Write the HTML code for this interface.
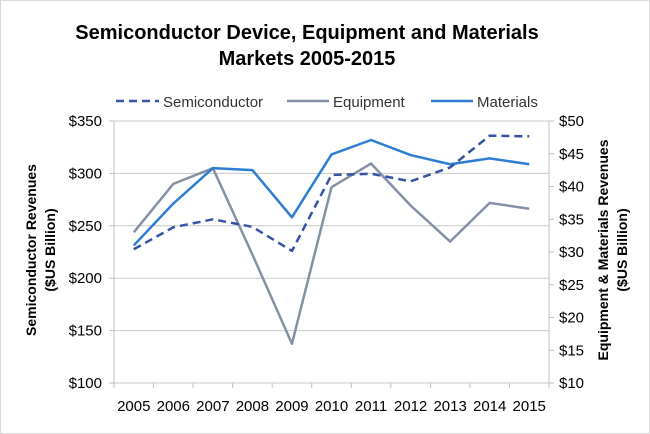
<!DOCTYPE html>
<html><head><meta charset="utf-8"><style>
body{margin:0;background:#fff;}
svg{display:block;font-family:"Liberation Sans",Arial,sans-serif;}
</style></head><body>
<svg id="chart" width="650" height="434" viewBox="0 0 650 434">
<rect x="0.5" y="0.5" width="649" height="433" fill="#fff" stroke="#d9d9d9"/>
<text x="307" y="39" text-anchor="middle" font-size="20" font-weight="bold" fill="#000">Semiconductor Device, Equipment and Materials</text>
<text x="307" y="65" text-anchor="middle" font-size="20" font-weight="bold" fill="#000">Markets 2005-2015</text>
<g id="legend">
<g><line x1="116" y1="101" x2="159" y2="101" stroke="#3653A6" stroke-width="2.5" stroke-dasharray="8,5"/><text x="163" y="107" font-size="15" fill="#333">Semiconductor</text></g>
<g><line x1="287" y1="101" x2="329" y2="101" stroke="#8490A6" stroke-width="2.5"/><text x="333" y="107" font-size="15" fill="#333">Equipment</text></g>
<g><line x1="431" y1="101" x2="473" y2="101" stroke="#2D7DD2" stroke-width="2.5"/><text x="477" y="107" font-size="15" fill="#333">Materials</text></g>
</g>
<g id="grid"></g><g id="axes"></g><g id="series"></g>
<text transform="translate(40,250) rotate(-90)" text-anchor="middle" font-size="14" font-weight="bold" fill="#000"><tspan x="0" dy="-4">Semiconductor Revenues</tspan><tspan x="0" dy="19">($US Billion)</tspan></text>
<text transform="translate(612,250) rotate(-90)" text-anchor="middle" font-size="14" font-weight="bold" fill="#000"><tspan x="0" dy="-4">Equipment &amp; Materials Revenues</tspan><tspan x="0" dy="19">($US Billion)</tspan></text>
</svg>
<script>
const years=["2005","2006","2007","2008","2009","2010","2011","2012","2013","2014","2015"];
const semiconductor=[227.6,248.6,256.2,249,226,298.5,299.7,292.4,305.7,336,335.4];
const equipment=[33,40.4,42.8,29.6,16,39.9,43.5,37.1,31.6,37.5,36.6];
const materials=[31,37.4,42.8,42.5,35.3,44.9,47.1,44.8,43.4,44.3,43.4];
const leftTicks=[100,150,200,250,300,350];
const rightTicks=[10,15,20,25,30,35,40,45,50];

const NS="http://www.w3.org/2000/svg";
const L=114,R=549,T=121,B=383;
const step=(R-L)/years.length;
const xS=i=>L+step*(i+0.5);
const yL=v=>B-(v-100)/250*(B-T);
const yR=v=>B-(v-10)/40*(B-T);
function mk(tag,attrs,parent){const e=document.createElementNS(NS,tag);for(const k in attrs)e.setAttribute(k,attrs[k]);parent.appendChild(e);return e;}
const grid=document.getElementById('grid'),axes=document.getElementById('axes'),ser=document.getElementById('series');
leftTicks.forEach(v=>{
  const g=mk('line',{x1:L,x2:R,y1:yL(v),y2:yL(v),stroke:'#c8c8c8','stroke-width':1},grid);
  
  
  const t=mk('text',{x:L-12,y:yL(v)+5,'text-anchor':'end','font-size':15,fill:'#000'},axes);
  t.textContent='$'+v;
  
  
  const k=mk('line',{x1:L-5,x2:L,y1:yL(v),y2:yL(v),stroke:'#bfbfbf'},axes);
});
rightTicks.forEach(v=>{
  const t=mk('text',{x:R+10,y:yR(v)+5,'font-size':15,fill:'#000'},axes);
  t.textContent='$'+v;
  
  
  mk('line',{x1:R,x2:R+5,y1:yR(v),y2:yR(v),stroke:'#bfbfbf'},axes);
});
mk('line',{x1:L,x2:L,y1:T,y2:B,stroke:'#bfbfbf'},axes);
mk('line',{x1:R,x2:R,y1:T,y2:B,stroke:'#bfbfbf'},axes);
years.forEach((y,i)=>{
  const t=mk('text',{x:xS(i),y:411,'text-anchor':'middle','font-size':15,fill:'#000'},axes);
  t.textContent=y;
  
  
});
for(let i=0;i<=years.length;i++) mk('line',{x1:L+step*i,x2:L+step*i,y1:B,y2:B+5,stroke:'#bfbfbf'},axes);
function line(vals,ys,color,dash,name){
  const p=mk('polyline',{points:vals.map((v,i)=>xS(i)+','+ys(v)).join(' '),fill:'none',stroke:color,'stroke-width':2.5,'stroke-linejoin':'round'},ser);
  if(dash)p.setAttribute('stroke-dasharray',dash);
  
  
}
line(equipment,yR,'#8490A6',null,'equipment-line');
line(materials,yR,'#2D7DD2',null,'materials-line');
line(semiconductor,yL,'#3653A6','8,5','semiconductor-line');
</script>
</body></html>
